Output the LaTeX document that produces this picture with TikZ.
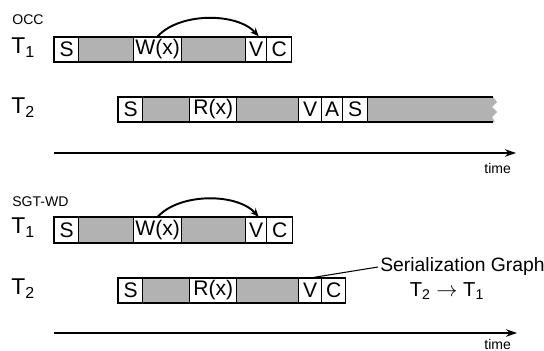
\documentclass[tikz,border=0pt]{standalone}
\usepackage{fontspec}
\setmainfont{Liberation Sans}
\usetikzlibrary{arrows.meta}
\tikzset{
  cell/.style={draw, fill=white, line width=0.8pt, minimum height=0.5cm, inner sep=0pt, anchor=west, font=\fontsize{12}{12}\selectfont},
  halftone/.style={fill=black!30},
  bar/.style={line width=0.8pt},
  lbl/.style={anchor=west, inner sep=0pt, font=\fontsize{13}{13}\selectfont},
  tag/.style={anchor=west, inner sep=0pt, font=\fontsize{8}{9}\selectfont},
  dep/.style={line width=1.1pt, -{Stealth[length=0.17cm,width=0.14cm]}},
  axis/.style={line width=0.9pt, -{Stealth[length=0.22cm,width=0.15cm]}},
}
\begin{document}
\begin{tikzpicture}[x=0.02cm,y=-0.02cm]
    \useasboundingbox (0,0) rectangle (544,351);
    % OCC
    \node[tag] (occ) at (12,20) {OCC};
    \node[lbl] (ta1) at (11,48) {T\textsubscript{1}};
    \node[lbl] (ta2) at (11,108) {T\textsubscript{2}};
    \fill[halftone] (54,37) rectangle (291,62);
    \draw[bar] (54,37) rectangle (291,62);
    \node[cell,minimum width=0.48cm] (as1) at (54,49.5) {S};
    \node[cell,minimum width=0.96cm] (aw1) at (133,49.5) {W(x)};
    \node[cell,minimum width=0.42cm] (av1) at (245,49.5) {V};
    \node[cell,minimum width=0.5cm] (ac1) at (266,49.5) {C};
    \draw[dep] (aw1.north) .. controls +(22,-24) and +(-22,-24) .. ([xshift=0.05cm]av1.north);
    \fill[halftone] (118,97) -- (493,97) -- (497,102) -- (492,107) -- (497,112) -- (492,117) -- (495,122) -- (118,122) -- cycle;
    \draw[bar] (493,97) -- (118,97) -- (118,122) -- (493,122);
    \node[cell,minimum width=0.48cm] (as2) at (118,109.5) {S};
    \node[cell,minimum width=0.94cm] (ar2) at (189,109.5) {R(x)};
    \node[cell,minimum width=0.46cm] (av2) at (298,109.5) {V};
    \node[cell,minimum width=0.42cm] (aa2) at (321,109.5) {A};
    \node[cell,minimum width=0.5cm] (as3) at (342,109.5) {S};
    \coordinate (a0) at (54,153);
    \coordinate (a1) at (516,153);
    \draw[axis] (a0) -- (a1);
    \node[tag] (atime) at (484,168) {time};
    % SGT-WD
    \node[tag] (sgt) at (12,202) {SGT-WD};
    \node[lbl] (tb1) at (11,228) {T\textsubscript{1}};
    \node[lbl] (tb2) at (11,289) {T\textsubscript{2}};
    \fill[halftone] (54,217) rectangle (292,243);
    \draw[bar] (54,217) rectangle (292,243);
    \node[cell,minimum width=0.48cm] (bs1) at (54,230) {S};
    \node[cell,minimum width=0.96cm] (bw1) at (133,230) {W(x)};
    \node[cell,minimum width=0.42cm] (bv1) at (245,230) {V};
    \node[cell,minimum width=0.52cm] (bc1) at (266,230) {C};
    \draw[dep] (bw1.north) .. controls +(22,-24) and +(-22,-24) .. ([xshift=0.05cm]bv1.north);
    \fill[halftone] (118,278) rectangle (345,303);
    \draw[bar] (118,278) rectangle (345,303);
    \node[cell,minimum width=0.48cm] (bs2) at (118,290.5) {S};
    \node[cell,minimum width=0.94cm] (br2) at (189,290.5) {R(x)};
    \node[cell,minimum width=0.46cm] (bv2) at (298,290.5) {V};
    \node[cell,minimum width=0.48cm] (bc2) at (321,290.5) {C};
    \node[anchor=west, inner sep=0pt, font=\fontsize{11}{11}\selectfont] (sg) at (380,267) {Serialization Graph};
    \node[inner sep=0pt, font=\fontsize{11.5}{11.5}\selectfont] (sgo) at (447,291) {T\textsubscript{2} $\rightarrow$ T\textsubscript{1}};
    \draw[line width=0.6pt] ([xshift=-0.04cm]sg.west) -- ([xshift=0.08cm]bv2.north);
    \coordinate (b0) at (54,333);
    \coordinate (b1) at (517,333);
    \draw[axis] (b0) -- (b1);
    \node[tag] (btime) at (484,344) {time};
\end{tikzpicture}
\end{document}
